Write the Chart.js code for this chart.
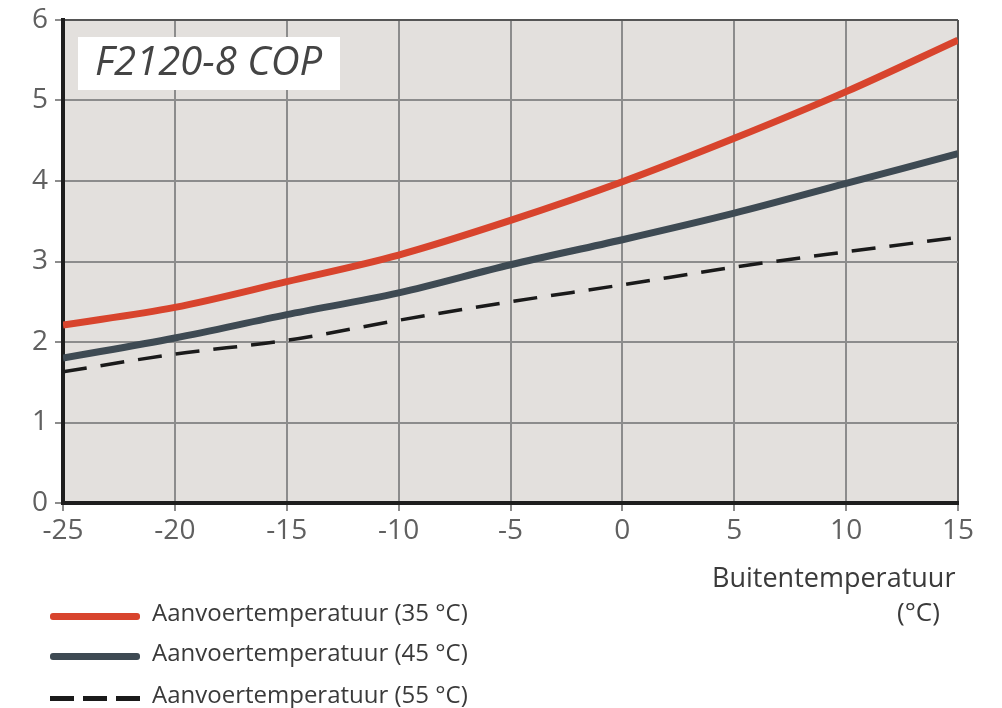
<!DOCTYPE html>
<html>
<head>
<meta charset="utf-8">
<script src="https://cdn.jsdelivr.net/npm/chart.js@4.4.1/dist/chart.umd.min.js"></script>
<style>
  body {margin: 0; background: #fff;}
  #wrap {position: relative; width: 1002px; height: 708px;}
  .txt {position: absolute; font-family: 'Open Sans', sans-serif; color: #3a3a3a; white-space: nowrap; line-height: 1;}
  .legend-row {position: absolute; left: 50px; height: 40px; display: flex; align-items: center; font-size: 24px;}
  .swatch {width: 90px; height: 7px; margin-right: 12px; margin-top: 8px; flex: none;}
</style>
</head>
<body>
<div id="wrap">
  <canvas id="cop" width="1002" height="708"></canvas>
  <div class="txt" style="left:712px; top:563px; font-size:27px;">Buitentemperatuur</div>
  <div class="txt" style="left:897px; top:598px; font-size:26px;">(°C)</div>
  <div class="legend-row txt" style="top:592px;"><div class="swatch" style="background:#d8442d; border-radius:3px;"></div>Aanvoertemperatuur (35 °C)</div>
  <div class="legend-row txt" style="top:632px;"><div class="swatch" style="background:#3e4a53; border-radius:3px;"></div>Aanvoertemperatuur (45 °C)</div>
  <div class="legend-row txt" style="top:674px;"><div class="swatch" style="height:5px; background:repeating-linear-gradient(90deg, #1a1a1a 0 24px, transparent 24px 33px);"></div>Aanvoertemperatuur (55 °C)</div>
</div>
<script>
// outdoor temperature (°C)
const temps = [-25, -20, -15, -10, -5, 0, 5, 10, 15];
// COP per supply temperature
const cop35 = [2.21, 2.43, 2.75, 3.08, 3.51, 3.99, 4.53, 5.11, 5.75];
const cop45 = [1.80, 2.05, 2.34, 2.61, 2.96, 3.27, 3.60, 3.97, 4.34];
const cop55 = [1.63, 1.85, 2.02, 2.27, 2.50, 2.71, 2.93, 3.12, 3.30];
const seriesLabels = ['Aanvoertemperatuur (35 °C)', 'Aanvoertemperatuur (45 °C)', 'Aanvoertemperatuur (55 °C)'];
const chartTitle = 'F2120-8 COP';

const pts = (ys) => temps.map((t, i) => ({x: t, y: ys[i]}));

// grey plot background + white title box
const plotBg = {
  id: 'plotBg',
  beforeDraw(chart) {
    const {ctx, chartArea: a} = chart;
    ctx.save();
    ctx.fillStyle = '#e3e0dd';
    ctx.fillRect(a.left, a.top, a.right - a.left, a.bottom - a.top);
    ctx.restore();
  },
  beforeDatasetsDraw(chart) {
    const {ctx, chartArea: a} = chart;
    ctx.save();
    ctx.fillStyle = '#ffffff';
    ctx.fillRect(a.left + 15, a.top + 17, 262, 53);
    ctx.fillStyle = '#444';
    ctx.font = 'italic 40px "Open Sans", sans-serif';
    ctx.textBaseline = 'middle';
    ctx.fillText(chartTitle, a.left + 32, a.top + 44);
    ctx.restore();
  }
};

new Chart(document.getElementById('cop'), {
  type: 'line',
  data: {
    datasets: [
      {label: seriesLabels[0], data: pts(cop35), borderColor: '#d8442d', borderWidth: 7},
      {label: seriesLabels[1], data: pts(cop45), borderColor: '#3e4a53', borderWidth: 7},
      {label: seriesLabels[2], data: pts(cop55), borderColor: '#1a1a1a', borderWidth: 3.5, borderDash: [24, 14]},
    ]
  },
  options: {
    responsive: false,
    animation: false,
    layout: {padding: {top: 20, right: 44}},
    elements: {
      point: {radius: 0},
      line: {tension: 0.4, cubicInterpolationMode: 'monotone', borderCapStyle: 'butt'}
    },
    plugins: {legend: {display: false}, tooltip: {enabled: false}},
    scales: {
      x: {
        type: 'linear', min: -25, max: 15,
        afterFit: (s) => { s.height = 205; },
        ticks: {stepSize: 5, color: '#606060', padding: 3, maxRotation: 0, font: {family: 'Open Sans', size: 28}},
        grid: {color: (c) => c.tick && c.tick.value === 15 ? '#555' : '#8c8c8c', lineWidth: 2, tickLength: 8, tickColor: '#8c8c8c'},
        border: {color: '#1e1e1e', width: 4}
      },
      y: {
        min: 0, max: 6,
        afterFit: (s) => { s.width = 63; s.paddingTop = 0; s.paddingBottom = 0; },
        ticks: {stepSize: 1, color: '#606060', padding: 7, font: {family: 'Open Sans', size: 28}},
        grid: {color: (c) => c.tick && c.tick.value === 6 ? '#555' : '#8c8c8c', lineWidth: 2, tickLength: 8, tickColor: '#8c8c8c'},
        border: {color: '#1e1e1e', width: 4}
      }
    }
  },
  plugins: [plotBg]
});
</script>
</body>
</html>
